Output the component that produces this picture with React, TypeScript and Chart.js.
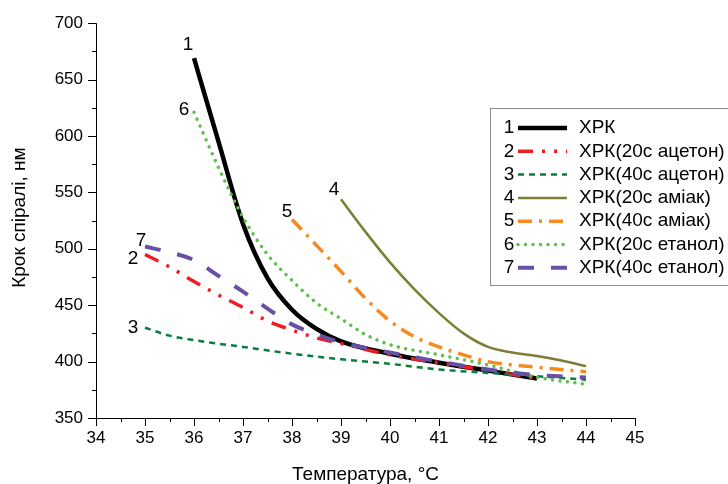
import React, { useEffect, useRef } from "react";
import { Chart, registerables } from "chart.js";

Chart.register(...registerables);

// ---- data ----
const xTickValues = [34, 35, 36, 37, 38, 39, 40, 41, 42, 43, 44, 45];
const yTickValues = [350, 400, 450, 500, 550, 600, 650, 700];

const seriesNumbers = ["1", "2", "3", "4", "5", "6", "7"];
const seriesNames = [
  "ХРК",
  "ХРК(20с ацетон)",
  "ХРК(40с ацетон)",
  "ХРК(20с аміак)",
  "ХРК(40с аміак)",
  "ХРК(20с етанол)",
  "ХРК(40с етанол)",
];

const temps1 = [36, 36.5, 37, 37.5, 38, 38.5, 39, 40, 41, 42, 43];
const values1 = [669, 595, 522, 474, 446, 429, 418, 407, 399, 392, 385];

const temps2 = [35, 35.5, 36, 36.5, 37, 37.5, 38, 38.5, 39, 40, 41, 42, 43];
const values2 = [495, 484, 471, 459, 448, 436, 428, 421, 416, 406, 399, 392, 385];

const temps3 = [35, 35.5, 36, 37, 38, 39, 40, 41, 42, 43, 44];
const values3 = [430, 423, 419, 413, 407, 402, 398, 393, 390, 387, 384];

const temps4 = [39, 39.5, 40, 40.5, 41, 41.5, 42, 42.5, 43, 43.5, 44];
const values4 = [544, 515, 488, 464, 443, 425, 413, 408, 405, 401, 396];

const temps5 = [38, 38.5, 39, 39.5, 40, 40.5, 41, 41.5, 42, 43, 44];
const values5 = [526, 503, 480, 456, 436, 422, 413, 406, 400, 395, 391];

const temps6 = [36, 36.5, 37, 37.5, 38, 38.5, 39, 39.5, 40, 41, 42, 43, 44];
const values6 = [621, 572, 528, 495, 472, 452, 438, 424, 415, 406, 397, 386, 380];

const temps7 = [35, 35.5, 36, 36.5, 37, 37.5, 38, 38.5, 39, 40, 41, 42, 43, 44];
const values7 = [502, 497, 490, 476, 462, 447, 433, 424, 417, 408, 400, 393, 388, 386];

const allTemps = [temps1, temps2, temps3, temps4, temps5, temps6, temps7];
const allValues = [values1, values2, values3, values4, values5, values6, values7];

// ---- styles ----
const FONT = "'Liberation Sans', Arial, sans-serif";
const colors = ["#000000", "#ee1d23", "#0a7d3c", "#7d7d35", "#f7891e", "#5dc04a", "#6851a5"];
const widths = [4.5, 3.5, 2.5, 2.5, 3.5, 3.5, 4];
const dashes: number[][] = [[], [15, 9, 3, 9, 3, 9], [6, 5], [], [14, 7, 3, 7], [0.01, 7.5], [16, 17]];
const caps: CanvasLineCap[] = ["butt", "butt", "butt", "butt", "butt", "round", "butt"];
// label offsets (px) from the first point of each curve
const labelDx = [-6, -12, -12, -7, -5, -10, -4];
const labelDy = [-13, 4, 0, -9, -8, -3, -6];

const decorPlugin = {
  id: "decor",
  afterDraw(chart: any) {
    const ctx: CanvasRenderingContext2D = chart.ctx;
    const xs = chart.scales.x;
    const ys = chart.scales.y;
    const area = chart.chartArea;
    ctx.save();
    // axis lines
    ctx.strokeStyle = "#000";
    ctx.lineWidth = 1;
    ctx.beginPath();
    ctx.moveTo(area.left + 0.5, area.top);
    ctx.lineTo(area.left + 0.5, area.bottom + 0.5);
    ctx.lineTo(area.right, area.bottom + 0.5);
    ctx.stroke();
    // x ticks
    ctx.beginPath();
    xs.ticks.forEach((t: any) => {
      const px = Math.round(xs.getPixelForValue(t.value)) + 0.5;
      const len = Number.isInteger(t.value) ? 8 : 4;
      ctx.moveTo(px, area.bottom);
      ctx.lineTo(px, area.bottom + len);
    });
    // y ticks
    ys.ticks.forEach((t: any) => {
      const py = Math.round(ys.getPixelForValue(t.value)) + 0.5;
      const len = t.value % 50 === 0 ? 8 : 4;
      ctx.moveTo(area.left, py);
      ctx.lineTo(area.left - len, py);
    });
    ctx.stroke();

    // axis titles
    ctx.fillStyle = "#000";
    ctx.font = `19px ${FONT}`;
    ctx.textAlign = "center";
    ctx.textBaseline = "middle";
    ctx.fillText("Температура, °C", (area.left + area.right) / 2, 475);
    ctx.save();
    ctx.translate(20, (area.top + area.bottom) / 2 - 3);
    ctx.rotate(-Math.PI / 2);
    ctx.fillText("Крок спіралі, нм", 0, 0);
    ctx.restore();

    // curve number labels
    ctx.font = `19px ${FONT}`;
    for (let i = 0; i < allTemps.length; i++) {
      const px = xs.getPixelForValue(allTemps[i][0]);
      const py = ys.getPixelForValue(allValues[i][0]);
      ctx.fillText(seriesNumbers[i], px + labelDx[i], py + labelDy[i]);
    }

    // legend
    const lx = 490.5;
    const ly = 108.5;
    ctx.strokeStyle = "#8c8c8c";
    ctx.lineWidth = 1;
    ctx.strokeRect(lx, ly, 260, 177);
    const rowH = 23.3;
    for (let i = 0; i < seriesNames.length; i++) {
      const y = 128 + rowH * i;
      ctx.fillStyle = "#000";
      ctx.textAlign = "center";
      ctx.fillText(seriesNumbers[i], 509, y);
      ctx.beginPath();
      ctx.strokeStyle = colors[i];
      ctx.lineWidth = widths[i];
      ctx.setLineDash(dashes[i]);
      ctx.lineCap = caps[i];
      ctx.moveTo(518, y);
      ctx.lineTo(567, y);
      ctx.stroke();
      ctx.setLineDash([]);
      ctx.lineCap = "butt";
      ctx.textAlign = "left";
      ctx.fillText(seriesNames[i], 579, y);
    }
    ctx.restore();
  },
};

export default function App() {
  const ref = useRef<HTMLCanvasElement | null>(null);
  useEffect(() => {
    if (!ref.current) return;
    const datasets = allTemps.map((temps, i) => ({
      label: seriesNames[i],
      data: temps.map((t, j) => ({ x: t, y: allValues[i][j] })),
      borderColor: colors[i],
      backgroundColor: colors[i],
      borderWidth: widths[i],
      borderDash: dashes[i],
      borderCapStyle: caps[i],
      borderJoinStyle: "round" as const,
      pointRadius: 0,
      fill: false,
      cubicInterpolationMode: "monotone" as const,
      order: 7 - i,
    }));
    const chart = new Chart(ref.current, {
      type: "line",
      data: { datasets },
      options: {
        animation: false,
        responsive: false,
        layout: { padding: { top: 20, right: 93, left: 0, bottom: 0 } },
        plugins: { legend: { display: false }, tooltip: { enabled: false } },
        scales: {
          x: {
            type: "linear",
            min: xTickValues[0],
            max: xTickValues[xTickValues.length - 1],
            grid: { display: false, drawTicks: false },
            border: { display: false },
            ticks: {
              stepSize: 0.5,
              autoSkip: false,
              maxRotation: 0,
              padding: 10,
              color: "#000",
              font: { family: FONT, size: 17 },
              callback: (v: any) => (xTickValues.includes(Number(v)) ? String(v) : ""),
            },
            afterFit: (s: any) => {
              s.height = 66;
            },
          },
          y: {
            type: "linear",
            min: yTickValues[0],
            max: yTickValues[yTickValues.length - 1],
            grid: { display: false, drawTicks: false },
            border: { display: false },
            ticks: {
              stepSize: 25,
              autoSkip: false,
              padding: 13,
              color: "#000",
              font: { family: FONT, size: 17 },
              callback: (v: any) => (yTickValues.includes(Number(v)) ? String(v) : ""),
            },
            afterFit: (s: any) => {
              s.width = 96;
            },
          },
        },
      },
      plugins: [decorPlugin],
    });
    return () => chart.destroy();
  }, []);
  return (
    <div style={{ position: "fixed", left: 0, top: 0, width: 728, height: 484, background: "#fff" }}>
      <canvas ref={ref} width={728} height={484} style={{ display: "block" }} />
    </div>
  );
}
